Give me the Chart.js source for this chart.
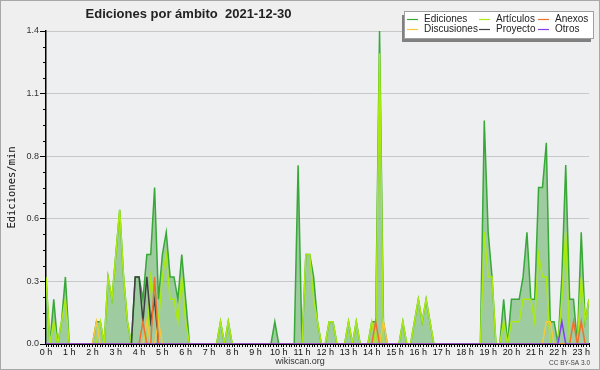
<!DOCTYPE html>
<html><head><meta charset="utf-8">
<script src="https://cdn.jsdelivr.net/npm/chart.js@4"></script>
<style>html,body{margin:0;padding:0;background:#efefef;overflow:hidden}canvas{display:block}</style>
</head><body>
<canvas id="c" width="600" height="370"></canvas>
<script>
const titleText = 'Ediciones por ámbito  2021-12-30';
const yAxisTitle = 'Ediciones/min';
const footerText = 'wikiscan.org';
const licenseText = 'CC BY-SA 3.0';
const bucketMinutes = 10;
const hourLabels = ['0 h','1 h','2 h','3 h','4 h','5 h','6 h','7 h','8 h','9 h','10 h','11 h','12 h','13 h','14 h','15 h','16 h','17 h','18 h','19 h','20 h','21 h','22 h','23 h'];
const yTickValues = [0, 0.28, 0.56, 0.84, 1.12, 1.4];
const yTickLabels = ['0.0','0.3','0.6','0.8','1.1','1.4'];
const seriesNames = ['Ediciones','Artículos','Anexos','Discusiones','Proyecto','Otros'];

const ediciones = [
0.3,0,0.2,0,0.1,0.3,0,0,0,0, 0,0,0,0.1,0.1,0,0.3,0.2,0.4,0.6,
0.3,0.1,0,0.3,0.3,0.2,0.4,0.4,0.7,0.2, 0.4,0.5,0.3,0.3,0.2,0.4,0.2,0,0,0,
0,0,0,0,0,0.1,0,0.1,0,0, 0,0,0,0,0,0,0,0,0,0.1,
0,0,0,0,0,0.8,0,0.4,0.4,0.3, 0.1,0,0,0.1,0.1,0,0,0,0.1,0,
0.1,0,0,0,0.1,0.1,1.4,0.1,0,0, 0,0,0.1,0,0,0.1,0.2,0.1,0.2,0.1,
0,0,0,0,0,0,0,0,0,0, 0,0,0,1.0,0.5,0.3,0,0,0.2,0,
0.2,0.2,0.2,0.3,0.5,0.2,0.2,0.7,0.7,0.9, 0.1,0.1,0,0.3,0.8,0.2,0.2,0,0.5,0.1,
0.2];
const articulos = [
0.3,0,0.1,0,0.1,0.2,0,0,0,0, 0,0,0,0,0.1,0,0.3,0.2,0.4,0.6,
0.3,0.1,0,0,0,0,0,0.3,0.2,0.1, 0.3,0.4,0.2,0.2,0.1,0.3,0.1,0,0,0,
0,0,0,0,0,0.1,0,0.1,0,0, 0,0,0,0,0,0,0,0,0,0,
0,0,0,0,0,0,0,0.4,0.4,0.2, 0.1,0,0,0.1,0.1,0,0,0,0.1,0,
0.1,0,0,0,0.1,0,1.3,0,0,0, 0,0,0.1,0,0,0.1,0.2,0.1,0.2,0.1,
0,0,0,0,0,0,0,0,0,0, 0,0,0,0.5,0.3,0.3,0,0,0.1,0,
0.1,0.1,0.1,0.2,0.2,0.2,0.1,0.4,0.3,0.3, 0,0,0,0.2,0.5,0,0,0,0.3,0.1,
0.2];
const anexos = [
0,0,0,0,0,0,0,0,0,0, 0,0,0,0,0,0,0,0,0,0,
0,0,0,0,0,0.1,0,0,0.3,0, 0,0,0,0,0,0,0,0,0,0,
0,0,0,0,0,0,0,0,0,0, 0,0,0,0,0,0,0,0,0,0,
0,0,0,0,0,0,0,0,0,0, 0,0,0,0,0,0,0,0,0,0,
0,0,0,0,0,0.1,0,0,0,0, 0,0,0,0,0,0,0,0,0,0,
0,0,0,0,0,0,0,0,0,0, 0,0,0,0,0,0,0,0,0,0,
0,0,0,0,0,0,0,0,0,0, 0,0,0,0,0,0,0.1,0,0.1,0,
0];
const discusiones = [
0,0,0,0,0,0,0,0,0,0, 0,0,0,0.1,0,0,0,0,0,0,
0,0,0,0,0,0,0.1,0,0,0.1, 0,0,0,0,0,0,0,0,0,0,
0,0,0,0,0,0,0,0,0,0, 0,0,0,0,0,0,0,0,0,0,
0,0,0,0,0,0,0,0,0,0, 0,0,0,0,0,0,0,0,0,0,
0,0,0,0,0,0,0,0.1,0,0, 0,0,0,0,0,0,0,0,0,0,
0,0,0,0,0,0,0,0,0,0, 0,0,0,0,0,0,0,0,0,0,
0,0,0,0,0,0,0,0,0,0.1, 0.1,0,0,0,0,0,0,0,0,0,
0];
const proyecto = [
0,0,0,0,0,0,0,0,0,0, 0,0,0,0,0,0,0,0,0,0,
0,0,0,0.3,0.3,0.1,0.3,0.1,0.2,0, 0,0,0,0,0,0,0,0,0,0,
0,0,0,0,0,0,0,0,0,0, 0,0,0,0,0,0,0,0,0,0,
0,0,0,0,0,0,0,0,0,0, 0,0,0,0,0,0,0,0,0,0,
0,0,0,0,0,0,0,0,0,0, 0,0,0,0,0,0,0,0,0,0,
0,0,0,0,0,0,0,0,0,0, 0,0,0,0,0,0,0,0,0,0,
0,0,0,0,0,0,0,0,0,0, 0,0,0,0,0,0,0,0,0,0,
0];
const otros = [
0,0,0,0,0,0,0,0,0,0, 0,0,0,0,0,0,0,0,0,0,
0,0,0,0,0,0,0,0,0,0, 0,0,0,0,0,0,0,0,0,0,
0,0,0,0,0,0,0,0,0,0, 0,0,0,0,0,0,0,0,0,0,
0,0,0,0,0,0,0,0,0,0, 0,0,0,0,0,0,0,0,0,0,
0,0,0,0,0,0,0,0,0,0, 0,0,0,0,0,0,0,0,0,0,
0,0,0,0,0,0,0,0,0,0, 0,0,0,0,0,0,0,0,0,0,
0,0,0,0,0,0,0,0,0,0, 0,0,0,0.1,0,0,0,0,0,0,
0];

const hoursOf = arr => arr.map((v, i) => ({x: i * bucketMinutes / 60, y: v}));
const lastHour = (ediciones.length - 1) * bucketMinutes / 60;

const styles = [
  {color:'#38a838', fill:'rgba(60,160,60,0.45)', order:6},
  {color:'#aaea10', order:5},
  {color:'#f07030', order:2},
  {color:'#f8c838', order:3},
  {color:'#404040', order:4},
  {color:'#8040f0', order:1}
];
const seriesData = [ediciones, articulos, anexos, discusiones, proyecto, otros];

const datasets = seriesData.map((d, k) => ({
  label: seriesNames[k],
  data: hoursOf(d),
  borderColor: styles[k].color,
  backgroundColor: styles[k].fill || styles[k].color,
  fill: k === 0 ? 'origin' : false,
  borderWidth: 1.5,
  pointRadius: 0,
  tension: 0,
  order: styles[k].order
}));

const decor = {
  id: 'decor',
  beforeDraw(chart) {
    const {ctx, chartArea: a} = chart;
    ctx.save();
    ctx.fillStyle = '#efefef';
    ctx.fillRect(0, 0, chart.width, chart.height);
    ctx.fillStyle = '#eeeff1';
    ctx.fillRect(a.left, a.top, a.right - a.left, a.bottom - a.top);
    ctx.restore();
  },
  afterDraw(chart) {
    const {ctx, chartArea: a} = chart;
    const ys = chart.scales.y;
    ctx.save();
    ctx.strokeStyle = '#000';
    ctx.lineWidth = 1;
    ctx.beginPath();
    for (let k = 0; k < yTickValues.length - 1; k++) {
      const v0 = yTickValues[k], v1 = yTickValues[k + 1];
      for (let m = 1; m < 4; m++) {
        const py = Math.round(ys.getPixelForValue(v0 + (v1 - v0) * m / 4)) + 0.5;
        ctx.moveTo(a.left - 3, py); ctx.lineTo(a.left, py);
      }
    }
    ctx.stroke();
    ctx.fillStyle = '#222';
    ctx.font = 'bold 13px "Liberation Sans"';
    ctx.textAlign = 'center';
    ctx.textBaseline = 'alphabetic';
    ctx.fillText(titleText, 188.5, 18);
    const bx = 404.5, by = 11.5, bw = 189, bh = 27;
    ctx.fillStyle = '#808080';
    ctx.fillRect(bx - 2.5, by + 3.5, bw, bh);
    ctx.fillStyle = '#ffffff';
    ctx.fillRect(bx, by, bw, bh);
    ctx.strokeStyle = '#a0a0a0';
    ctx.strokeRect(bx, by, bw, bh);
    const colX = [407, 479, 538];
    const rowY = [19.5, 29.5];
    ctx.font = '10px "Liberation Sans"';
    ctx.textAlign = 'left';
    ctx.textBaseline = 'middle';
    chart.data.datasets.forEach((ds, k) => {
      const cx = colX[k % 3], cy = rowY[Math.floor(k / 3)];
      ctx.strokeStyle = ds.borderColor;
      ctx.lineWidth = 1.2;
      ctx.beginPath(); ctx.moveTo(cx, cy); ctx.lineTo(cx + 11, cy); ctx.stroke();
      ctx.fillStyle = '#222';
      ctx.fillText(ds.label, cx + 17, cy);
    });
    ctx.textBaseline = 'alphabetic';
    ctx.fillStyle = '#333';
    ctx.font = '9px "Liberation Sans"';
    ctx.textAlign = 'center';
    ctx.fillText(footerText, 300, 364);
    ctx.fillStyle = '#444';
    ctx.font = '6.5px "Liberation Sans"';
    ctx.textAlign = 'right';
    ctx.fillText(licenseText, 590, 365);
    ctx.strokeStyle = '#a8a8a8';
    ctx.lineWidth = 1;
    ctx.strokeRect(0.5, 0.5, chart.width - 1, chart.height - 1);
    ctx.restore();
  }
};

new Chart(document.getElementById('c'), {
  type: 'line',
  data: { datasets },
  options: {
    responsive: false,
    animation: false,
    devicePixelRatio: 1,
    layout: { padding: { left: 0, top: 31, right: 11, bottom: 0 } },
    plugins: { legend: { display: false }, title: { display: false }, tooltip: { enabled: false } },
    scales: {
      x: {
        type: 'linear',
        min: 0,
        max: lastHour,
        z: 1,
        afterBuildTicks: s => {
          const t = [];
          for (let k = 0; k <= Math.round(lastHour * 9); k++) t.push({ value: k / 9 });
          s.ticks = t;
        },
        afterFit: s => { s.height = 26; },
        ticks: {
          autoSkip: false, maxRotation: 0, minRotation: 0, padding: 0,
          color: '#111',
          font: { family: 'Liberation Sans', size: 9 },
          callback: v => Number.isInteger(v) ? hourLabels[v] : ''
        },
        grid: { drawOnChartArea: false, drawTicks: true, tickLength: 3, color: '#000', tickColor: '#000' },
        border: { display: true, color: '#000', width: 2 }
      },
      y: {
        type: 'linear',
        min: 0,
        max: 1.4,
        afterBuildTicks: s => { s.ticks = yTickValues.map(v => ({ value: v })); },
        afterFit: s => { s.width = 46; },
        ticks: {
          padding: 1,
          color: '#333',
          font: { family: 'Liberation Sans', size: 9 },
          callback: (v, i) => yTickLabels[i]
        },
        grid: { color: '#c8c8c8', tickColor: '#000', tickLength: 6, drawTicks: true },
        border: { display: true, color: '#000', width: 1.5 },
        title: {
          display: true, text: yAxisTitle, color: '#111',
          font: { family: 'DejaVu Sans Mono', size: 10.5 },
          padding: { top: 6, bottom: 0 }
        }
      }
    }
  },
  plugins: [decor]
});
</script>
</body></html>
